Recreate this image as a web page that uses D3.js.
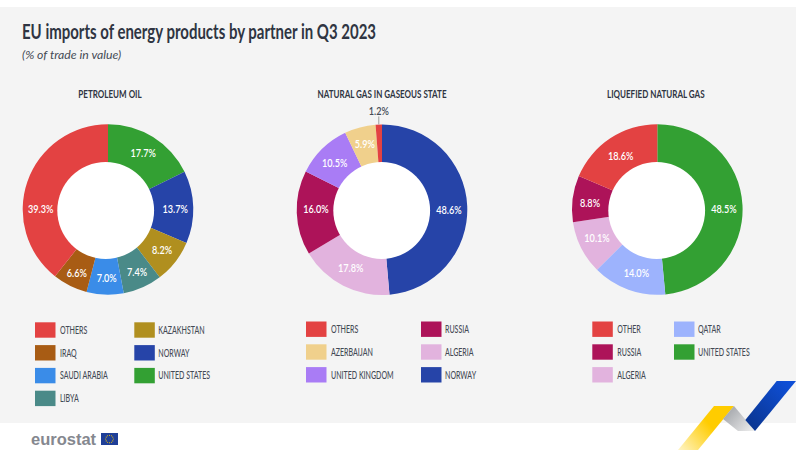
<!DOCTYPE html>
<html><head><meta charset="utf-8">
<script src="https://cdn.jsdelivr.net/npm/d3@7"></script>
<style>html,body{margin:0;padding:0;background:#fff}svg{display:block}text{font-family:Lato,"Open Sans",sans-serif}</style>
</head><body><svg id="c" width="796" height="450"></svg>
<script>
const titleText = "EU imports of energy products by partner in Q3 2023";
const subtitleText = "(% of trade in value)";

const oilNames = ["UNITED STATES","NORWAY","KAZAKHSTAN","LIBYA","SAUDI ARABIA","IRAQ","OTHERS"];
const oilValues = [17.7,13.7,8.2,7.4,7.0,6.6,39.3];
const oilColors = ["#33a033","#2644a8","#b08f1f","#4a8a88","#3a8ce8","#a85c14","#e34242"];
const oilLegend = ["OTHERS","IRAQ","SAUDI ARABIA","LIBYA","KAZAKHSTAN","NORWAY","UNITED STATES"];

const gasNames = ["NORWAY","ALGERIA","RUSSIA","UNITED KINGDOM","AZERBAIJAN","OTHERS"];
const gasValues = [48.6,17.8,16.0,10.5,5.9,1.2];
const gasColors = ["#2644a8","#e2b3de","#ad1359","#a97cf5","#f0d08c","#e34242"];
const gasLegend = ["OTHERS","AZERBAIJAN","UNITED KINGDOM","RUSSIA","ALGERIA","NORWAY"];

const lngNames = ["UNITED STATES","QATAR","ALGERIA","RUSSIA","OTHER"];
const lngValues = [48.5,14.0,10.1,8.8,18.6];
const lngColors = ["#33a033","#9db3fd","#e2b3de","#ad1359","#e34242"];
const lngLegend = ["OTHER","RUSSIA","ALGERIA","QATAR","UNITED STATES"];

// label nudges from the slice centroid, in pixels
const oilNudge = [[0,0],[.5,1.4],[1.5,0],[2,1.5],[1,1.7],[-1.5,3.6],[-4.4,21]];
const gasNudge = [[.4,3.2],[-1,-.8],[.6,-3],[-.6,.5],[0,-1],[0,0]];
const lngNudge = [[0,2.9],[1.6,.5],[-.8,-1.8],[-1.2,1.6],[.2,1.8]];

const panels = [
 {title:"PETROLEUM OIL",names:oilNames,values:oilValues,colors:oilColors,legend:oilLegend,nudge:oilNudge,cx:108,cy:209.5,hole:[105.7,210.5],tx:110,lx:[35,134.3],split:4,ly:0.3},
 {title:"NATURAL GAS IN GASEOUS STATE",names:gasNames,values:gasValues,colors:gasColors,legend:gasLegend,nudge:gasNudge,cx:382,cy:209.7,hole:[381.7,210.5],tx:382,lx:[306,421],split:3,ly:-.5},
 {title:"LIQUEFIED NATURAL GAS",names:lngNames,values:lngValues,colors:lngColors,legend:lngLegend,nudge:lngNudge,cx:657.3,cy:209.5,hole:[656.7,210.5],tx:655.8,lx:[592.3,674],split:3,ly:-.5}
];
const svg = d3.select("#c");
const defs = svg.append("defs");
function grad(id,x1,y1,x2,y2,stops){const g=defs.append("linearGradient").attr("id",id).attr("gradientUnits","userSpaceOnUse").attr("x1",x1).attr("y1",y1).attr("x2",x2).attr("y2",y2);stops.forEach(s=>g.append("stop").attr("offset",s[0]).attr("stop-color",s[1]));}
grad("gy",735,405,680,450,[[0,"#ffcc00"],[0.45,"#ffcc00"],[1,"#fff3c0"]]);
grad("gg",725,405,755,432,[[0,"#9a9da2"],[1,"#f2f2f2"]]);
grad("gb",790,385,750,428,[[0,"#0f4fd6"],[1,"#0a3590"]]);

// condensed text: the reference face is narrow, so the glyphs are scaled horizontally
function txt(parent,x,y,str,size,weight,fill,sx,anchor){
  return parent.append("text").attr("transform",`translate(${x},${y}) scale(${sx},1)`)
    .attr("text-anchor",anchor||"start").attr("font-size",size).attr("font-weight",weight).attr("fill",fill).text(str);
}

svg.append("rect").attr("x",0).attr("y",7).attr("width",796).attr("height",416).attr("fill","#f4f4f4");
txt(svg,22,38.5,titleText,20,700,"#2f3542",.75);
txt(svg,22,59,subtitleText,12,400,"#444a55",1.02).attr("font-style","italic");

const R=85.3, r=40, holeR=48.4, midR=66.65;
const pie=d3.pie().sort(null).value(d=>d.v);
const arc=d3.arc().innerRadius(r).outerRadius(R);
const lab=d3.arc().innerRadius(midR).outerRadius(midR);

panels.forEach(p=>{
  const data=p.values.map((v,i)=>({v,name:p.names[i],color:p.colors[i],nudge:p.nudge[i]}));
  const colorOf=new Map(data.map(d=>[d.name,d.color]));
  txt(svg,p.tx,98,p.title,11.5,700,"#2f3542",.7,"middle");
  const g=svg.append("g").attr("transform",`translate(${p.cx},${p.cy})`);
  const arcs=pie(data);
  g.selectAll("path").data(arcs).join("path").attr("d",arc).attr("fill",d=>d.data.color);
  svg.append("circle").attr("cx",p.hole[0]).attr("cy",p.hole[1]).attr("r",holeR).attr("fill","#fff");
  arcs.forEach(a=>{
    if(a.data.v<3){
      const [cx]=d3.arc().innerRadius(R).outerRadius(R).centroid(a);
      g.append("line").attr("x1",cx).attr("x2",cx).attr("y1",-R).attr("y2",-R-8).attr("stroke","#888").attr("stroke-width",.8);
      txt(g,cx,-R-9,a.data.v.toFixed(1)+"%",12,600,"#444a55",.76,"middle");
    } else {
      const [x,y]=lab.centroid(a);
      txt(g,x+a.data.nudge[0],y+a.data.nudge[1]+4,a.data.v.toFixed(1)+"%",12,600,"#fff",.76,"middle");
    }
  });
  const lg=svg.append("g");
  p.legend.forEach((n,i)=>{
    const col=i<p.split?0:1, row=col?i-p.split:i;
    const x=p.lx[col], y=322+row*22.8+p.ly;
    lg.append("rect").attr("x",x).attr("y",y).attr("width",20.5).attr("height",15.4).attr("fill",colorOf.get(n));
    txt(lg,x+(col?24:25),y+11.5,n,11,500,"#444a55",.64);
  });
});

// eurostat logo
svg.append("text").attr("x",31).attr("y",445).attr("style","font-family:'Liberation Sans',sans-serif").attr("font-size",16.5).attr("font-weight",700).attr("fill","#85888f").text("eurostat");
svg.append("rect").attr("x",101).attr("y",433).attr("width",17).attr("height",12).attr("fill","#1f3f98");
const stars=d3.range(12).map(i=>i*Math.PI/6);
svg.selectAll("circle.star").data(stars).join("circle").attr("class","star").attr("cx",d=>109.5+3.8*Math.cos(d)).attr("cy",d=>439+3.8*Math.sin(d)).attr("r",.55).attr("fill","#ffcc00");
// corner ribbon
const ribbon=[
 {pts:"714,406 734,406 698,450 678,450",fill:"url(#gy)"},
 {pts:"734,406 755,431 738,431 723,419",fill:"url(#gg)"},
 {pts:"776.7,381 796,381 755,431 745.3,420",fill:"url(#gb)"}
];
svg.selectAll("polygon").data(ribbon).join("polygon").attr("points",d=>d.pts).attr("fill",d=>d.fill);
</script></body></html>
